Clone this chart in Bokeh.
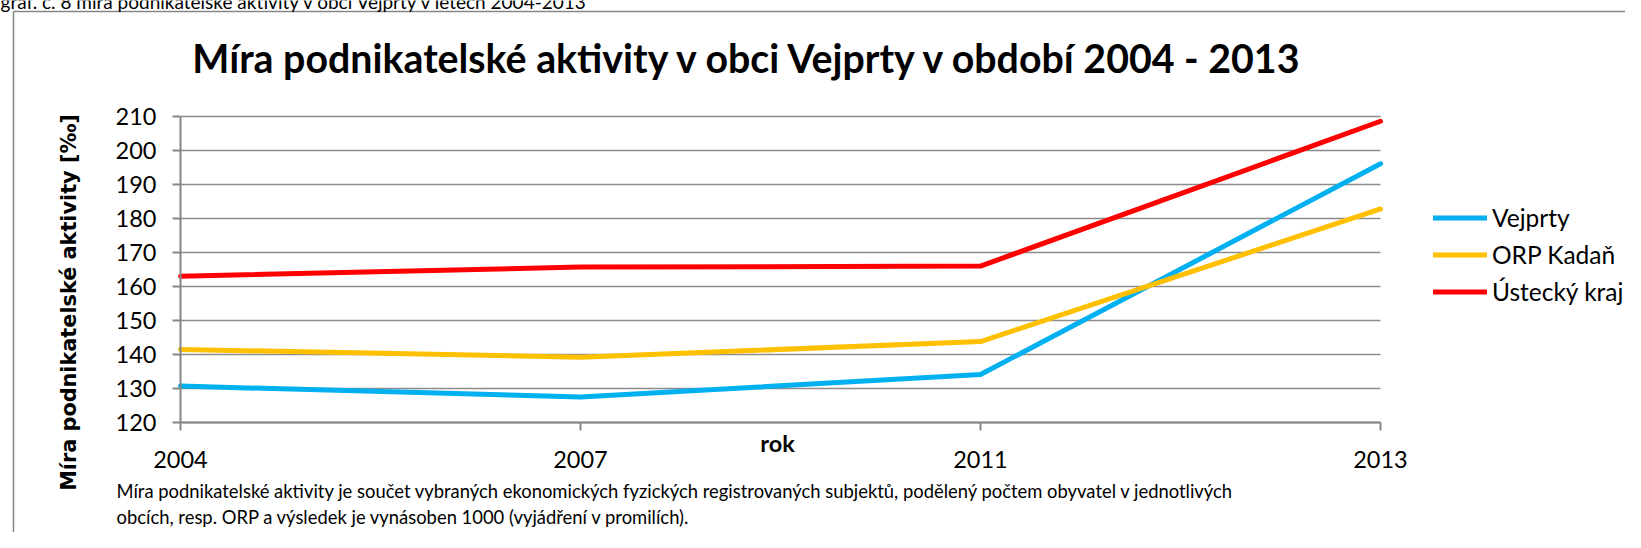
from bokeh.plotting import figure
from bokeh.models import (Range1d, FixedTicker, Label, Legend, LegendItem,
                          ColumnDataSource)
from bokeh.embed import file_html
from bokeh.resources import INLINE

# ---- data ----
years = ["2004", "2007", "2011", "2013"]
vejprty = [130.7, 127.5, 134.1, 196.1]
orp_kadan = [141.5, 139.2, 143.8, 182.8]
ustecky_kraj = [163.0, 165.7, 166.0, 208.6]
series_names = ["Vejprty", "ORP Kadaň", "Ústecký kraj"]
series_colors = ["#00B0F0", "#FFC000", "#FF0000"]
y_ticks = [120, 130, 140, 150, 160, 170, 180, 190, 200, 210]
title_text = "Míra podnikatelské aktivity v obci Vejprty v období 2004 - 2013"
y_label_text = "Míra podnikatelské aktivity [‰]"
x_label_text = "rok"
note_lines = [
    "Míra podnikatelské aktivity je součet vybraných ekonomických fyzických registrovaných subjektů, podělený počtem obyvatel v jednotlivých",
    "obcích, resp. ORP a výsledek je vynásoben 1000 (vyjádření v promilích).",
]
caption_text = "graf. č. 8 míra podnikatelské aktivity v obci Vejprty v letech 2004-2013"

W, H = 1625, 532
# plot area (in canvas px): where the first/last year and the min/max tick sit
PX0, PX1 = 180, 1380
PY_TOP, PY_BOT = 116, 422

x_idx = list(range(len(years)))
y_min, y_max = y_ticks[0], y_ticks[-1]
xs = (x_idx[-1] - x_idx[0]) / (PX1 - PX0)      # data units per px
ys = (y_max - y_min) / (PY_BOT - PY_TOP)


def dx(px):
    return x_idx[0] + (px - PX0) * xs


def dy(py):
    return y_min + (PY_BOT - py) * ys


p = figure(width=W, height=H, output_backend="svg", toolbar_location=None,
           x_range=Range1d(dx(0), dx(W)), y_range=Range1d(dy(H), dy(0)),
           min_border=0, min_border_left=0, min_border_right=0,
           min_border_top=0, min_border_bottom=0,
           background_fill_color="white", border_fill_color="white")
p.outline_line_color = None

AX = "#868686"
FONT = "Lato"

# outer chart border (top and left edges; the rest runs off the picture)
p.segment(x0=[dx(13), dx(13)], y0=[dy(11), dy(11)], x1=[dx(W + 20), dx(13)],
          y1=[dy(11), dy(H + 20)], line_color=AX, line_width=1.5)

# axes placed at the data origin of the chart
p.xaxis.fixed_location = y_min
p.yaxis.fixed_location = x_idx[0]
p.xaxis.bounds = (x_idx[0], x_idx[-1])
p.yaxis.bounds = (y_min, y_max)
p.xaxis.ticker = FixedTicker(ticks=x_idx)
p.xaxis.major_label_overrides = {i: y for i, y in zip(x_idx, years)}
p.yaxis.ticker = FixedTicker(ticks=y_ticks)
for ax in (p.xaxis[0], p.yaxis[0]):
    ax.axis_line_color = AX
    ax.axis_line_width = 2
    ax.major_tick_line_color = AX
    ax.major_tick_line_width = 2
    ax.major_tick_out = 8
    ax.major_tick_in = 0
    ax.minor_tick_line_color = None
    ax.major_label_text_font = FONT
    ax.major_label_text_font_size = "23.5px"
    ax.major_label_text_color = "black"
p.xaxis.major_label_standoff = 20
p.yaxis.major_label_standoff = 16

p.xgrid.grid_line_color = None
p.ygrid.grid_line_color = None

# horizontal gridlines across the plot area
grid_src = ColumnDataSource(dict(x0=[x_idx[0]] * len(y_ticks), x1=[x_idx[-1]] * len(y_ticks),
                                 y=y_ticks))
p.segment(x0="x0", x1="x1", y0="y", y1="y", source=grid_src,
          line_color="#8c8c8c", line_width=1.6)

# series
renderers = []
for name, vals, col in zip(series_names, [vejprty, orp_kadan, ustecky_kraj], series_colors):
    src = ColumnDataSource(dict(x=x_idx, y=vals))
    r = p.line("x", "y", source=src, line_color=col, line_width=5,
               line_join="round", line_cap="round")
    renderers.append((name, r))

# legend (bottom-left corner in frame px measured from the bottom)
legend = Legend(items=[LegendItem(label=n, renderers=[r]) for n, r in renderers],
                location=(1433, H - 309.5), orientation="vertical",
                glyph_width=54, glyph_height=37, label_height=37, label_width=10,
                spacing=0, padding=0, margin=0, label_standoff=5,
                border_line_alpha=0, background_fill_alpha=0,
                label_text_font=FONT, label_text_font_size="24.5px",
                label_text_color="black")
p.add_layout(legend, "center")

# texts
p.add_layout(Label(x=dx(749), y=dy(57), text=title_text, text_align="center",
                   text_baseline="alphabetic", text_font=FONT,
                   text_font_style="bold", text_font_size="39.3px", text_color="black"))
p.add_layout(Label(x=dx(68), y=dy(302), text=y_label_text, angle=1.5707963,
                   text_align="center", text_baseline="middle",
                   text_font="DejaVu Sans", text_font_style="bold",
                   text_font_size="20.8px", text_color="black"))
p.add_layout(Label(x=dx(777), y=dy(442), text=x_label_text, text_align="center",
                   text_baseline="alphabetic", text_font=FONT,
                   text_font_style="bold", text_font_size="23.5px", text_color="black"))
for i, line in enumerate(note_lines):
    p.add_layout(Label(x=dx(116), y=dy(490 + 26 * i), text=line, text_align="left",
                       text_baseline="alphabetic", text_font=FONT,
                       text_font_size="18.4px", text_color="black"))
p.add_layout(Label(x=dx(0), y=dy(1), text=caption_text, text_align="left",
                   text_baseline="alphabetic", text_font=FONT,
                   text_font_size="19px", text_color="black"))

open("out.html", "w").write(file_html(p, INLINE))
